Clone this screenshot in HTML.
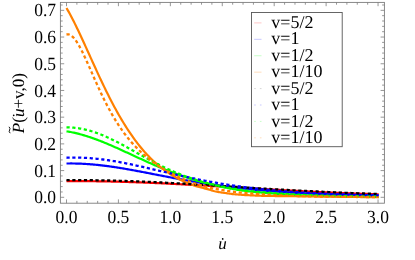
<!DOCTYPE html>
<html><head><meta charset="utf-8"><style>
html,body{margin:0;padding:0;background:#fff;}
svg{display:block;will-change:transform;opacity:0.999;font-family:"Liberation Serif",serif;text-rendering:geometricPrecision;}
text{stroke:none;}
</style></head><body>
<svg width="415" height="260" viewBox="0 0 415 260">
<rect width="415" height="260" fill="#fff"/>
<defs><clipPath id="c"><rect x="60.4" y="2.4" width="324.0" height="200.8"/></clipPath></defs>
<rect x="60.4" y="2.4" width="324.0" height="200.8" fill="none" stroke="#7c7c7c" stroke-width="0.9"/>
<path d="M66.50,203.2 v-3.8 M66.50,2.4 v3.8 M76.89,203.2 v-2.3 M76.89,2.4 v2.3 M87.27,203.2 v-2.3 M87.27,2.4 v2.3 M97.66,203.2 v-2.3 M97.66,2.4 v2.3 M108.04,203.2 v-2.3 M108.04,2.4 v2.3 M118.42,203.2 v-3.8 M118.42,2.4 v3.8 M128.81,203.2 v-2.3 M128.81,2.4 v2.3 M139.19,203.2 v-2.3 M139.19,2.4 v2.3 M149.58,203.2 v-2.3 M149.58,2.4 v2.3 M159.97,203.2 v-2.3 M159.97,2.4 v2.3 M170.35,203.2 v-3.8 M170.35,2.4 v3.8 M180.74,203.2 v-2.3 M180.74,2.4 v2.3 M191.12,203.2 v-2.3 M191.12,2.4 v2.3 M201.50,203.2 v-2.3 M201.50,2.4 v2.3 M211.89,203.2 v-2.3 M211.89,2.4 v2.3 M222.27,203.2 v-3.8 M222.27,2.4 v3.8 M232.66,203.2 v-2.3 M232.66,2.4 v2.3 M243.04,203.2 v-2.3 M243.04,2.4 v2.3 M253.43,203.2 v-2.3 M253.43,2.4 v2.3 M263.81,203.2 v-2.3 M263.81,2.4 v2.3 M274.20,203.2 v-3.8 M274.20,2.4 v3.8 M284.59,203.2 v-2.3 M284.59,2.4 v2.3 M294.97,203.2 v-2.3 M294.97,2.4 v2.3 M305.35,203.2 v-2.3 M305.35,2.4 v2.3 M315.74,203.2 v-2.3 M315.74,2.4 v2.3 M326.12,203.2 v-3.8 M326.12,2.4 v3.8 M336.51,203.2 v-2.3 M336.51,2.4 v2.3 M346.89,203.2 v-2.3 M346.89,2.4 v2.3 M357.28,203.2 v-2.3 M357.28,2.4 v2.3 M367.66,203.2 v-2.3 M367.66,2.4 v2.3 M378.05,203.2 v-3.8 M378.05,2.4 v3.8 M60.4,197.30 h3.8 M384.4,197.30 h-3.8 M60.4,191.96 h2.3 M384.4,191.96 h-2.3 M60.4,186.62 h2.3 M384.4,186.62 h-2.3 M60.4,181.27 h2.3 M384.4,181.27 h-2.3 M60.4,175.93 h2.3 M384.4,175.93 h-2.3 M60.4,170.59 h3.8 M384.4,170.59 h-3.8 M60.4,165.25 h2.3 M384.4,165.25 h-2.3 M60.4,159.91 h2.3 M384.4,159.91 h-2.3 M60.4,154.56 h2.3 M384.4,154.56 h-2.3 M60.4,149.22 h2.3 M384.4,149.22 h-2.3 M60.4,143.88 h3.8 M384.4,143.88 h-3.8 M60.4,138.54 h2.3 M384.4,138.54 h-2.3 M60.4,133.20 h2.3 M384.4,133.20 h-2.3 M60.4,127.85 h2.3 M384.4,127.85 h-2.3 M60.4,122.51 h2.3 M384.4,122.51 h-2.3 M60.4,117.17 h3.8 M384.4,117.17 h-3.8 M60.4,111.83 h2.3 M384.4,111.83 h-2.3 M60.4,106.49 h2.3 M384.4,106.49 h-2.3 M60.4,101.14 h2.3 M384.4,101.14 h-2.3 M60.4,95.80 h2.3 M384.4,95.80 h-2.3 M60.4,90.46 h3.8 M384.4,90.46 h-3.8 M60.4,85.12 h2.3 M384.4,85.12 h-2.3 M60.4,79.78 h2.3 M384.4,79.78 h-2.3 M60.4,74.43 h2.3 M384.4,74.43 h-2.3 M60.4,69.09 h2.3 M384.4,69.09 h-2.3 M60.4,63.75 h3.8 M384.4,63.75 h-3.8 M60.4,58.41 h2.3 M384.4,58.41 h-2.3 M60.4,53.07 h2.3 M384.4,53.07 h-2.3 M60.4,47.72 h2.3 M384.4,47.72 h-2.3 M60.4,42.38 h2.3 M384.4,42.38 h-2.3 M60.4,37.04 h3.8 M384.4,37.04 h-3.8 M60.4,31.70 h2.3 M384.4,31.70 h-2.3 M60.4,26.36 h2.3 M384.4,26.36 h-2.3 M60.4,21.01 h2.3 M384.4,21.01 h-2.3 M60.4,15.67 h2.3 M384.4,15.67 h-2.3 M60.4,10.33 h3.8 M384.4,10.33 h-3.8 M60.4,4.99 h2.3 M384.4,4.99 h-2.3" fill="none" stroke="#7c7c7c" stroke-width="0.8"/>
<g><path d="M66.50,181.14 L67.54,181.13 L68.59,181.13 L69.63,181.12 L70.68,181.12 L71.72,181.12 L72.76,181.12 L73.81,181.12 L74.85,181.12 L75.90,181.12 L76.94,181.12 L77.98,181.12 L79.03,181.12 L80.07,181.13 L81.12,181.13 L82.16,181.14 L83.20,181.14 L84.25,181.15 L85.29,181.15 L86.34,181.16 L87.38,181.17 L88.43,181.18 L89.47,181.19 L90.51,181.20 L91.56,181.21 L92.60,181.22 L93.65,181.23 L94.69,181.25 L95.73,181.26 L96.78,181.28 L97.82,181.29 L98.87,181.31 L99.91,181.32 L100.95,181.34 L102.00,181.36 L103.04,181.38 L104.09,181.39 L105.13,181.41 L106.17,181.43 L107.22,181.45 L108.26,181.48 L109.31,181.50 L110.35,181.52 L111.39,181.54 L112.44,181.57 L113.48,181.59 L114.53,181.62 L115.57,181.64 L116.61,181.67 L117.66,181.70 L118.70,181.73 L119.75,181.75 L120.79,181.78 L121.84,181.81 L122.88,181.84 L123.92,181.87 L124.97,181.90 L126.01,181.94 L127.06,181.97 L128.10,182.00 L129.14,182.03 L130.19,182.07 L131.23,182.10 L132.28,182.14 L133.32,182.17 L134.36,182.21 L135.41,182.25 L136.45,182.28 L137.50,182.32 L138.54,182.36 L139.58,182.40 L140.63,182.44 L141.67,182.48 L142.72,182.52 L143.76,182.56 L144.80,182.60 L145.85,182.64 L146.89,182.68 L147.94,182.73 L148.98,182.77 L150.02,182.81 L151.07,182.86 L152.11,182.90 L153.16,182.95 L154.20,182.99 L155.24,183.04 L156.29,183.09 L157.33,183.13 L158.38,183.18 L159.42,183.23 L160.47,183.27 L161.51,183.32 L162.55,183.37 L163.60,183.42 L164.64,183.47 L165.69,183.52 L166.73,183.57 L167.77,183.62 L168.82,183.67 L169.86,183.72 L170.91,183.78 L171.95,183.83 L172.99,183.88 L174.04,183.93 L175.08,183.99 L176.13,184.04 L177.17,184.09 L178.21,184.15 L179.26,184.20 L180.30,184.26 L181.35,184.31 L182.39,184.37 L183.43,184.42 L184.48,184.48 L185.52,184.53 L186.57,184.59 L187.61,184.65 L188.65,184.70 L189.70,184.76 L190.74,184.82 L191.79,184.88 L192.83,184.93 L193.87,184.99 L194.92,185.05 L195.96,185.11 L197.01,185.17 L198.05,185.23 L199.10,185.28 L200.14,185.34 L201.18,185.40 L202.23,185.46 L203.27,185.52 L204.32,185.58 L205.36,185.64 L206.40,185.70 L207.45,185.76 L208.49,185.82 L209.54,185.88 L210.58,185.94 L211.62,186.00 L212.67,186.07 L213.71,186.13 L214.76,186.19 L215.80,186.25 L216.84,186.31 L217.89,186.37 L218.93,186.43 L219.98,186.49 L221.02,186.56 L222.06,186.62 L223.11,186.68 L224.15,186.74 L225.20,186.80 L226.24,186.86 L227.28,186.93 L228.33,186.99 L229.37,187.05 L230.42,187.11 L231.46,187.17 L232.51,187.24 L233.55,187.30 L234.59,187.36 L235.64,187.42 L236.68,187.48 L237.73,187.55 L238.77,187.61 L239.81,187.67 L240.86,187.73 L241.90,187.79 L242.95,187.86 L243.99,187.92 L245.03,187.98 L246.08,188.04 L247.12,188.10 L248.17,188.16 L249.21,188.23 L250.25,188.29 L251.30,188.35 L252.34,188.41 L253.39,188.47 L254.43,188.53 L255.47,188.59 L256.52,188.65 L257.56,188.71 L258.61,188.77 L259.65,188.84 L260.69,188.90 L261.74,188.96 L262.78,189.02 L263.83,189.08 L264.87,189.14 L265.91,189.20 L266.96,189.26 L268.00,189.32 L269.05,189.37 L270.09,189.43 L271.14,189.49 L272.18,189.55 L273.22,189.61 L274.27,189.67 L275.31,189.73 L276.36,189.79 L277.40,189.84 L278.44,189.90 L279.49,189.96 L280.53,190.02 L281.58,190.08 L282.62,190.13 L283.66,190.19 L284.71,190.25 L285.75,190.30 L286.80,190.36 L287.84,190.42 L288.88,190.47 L289.93,190.53 L290.97,190.58 L292.02,190.64 L293.06,190.69 L294.10,190.75 L295.15,190.80 L296.19,190.86 L297.24,190.91 L298.28,190.97 L299.32,191.02 L300.37,191.07 L301.41,191.13 L302.46,191.18 L303.50,191.23 L304.55,191.29 L305.59,191.34 L306.63,191.39 L307.68,191.44 L308.72,191.50 L309.77,191.55 L310.81,191.60 L311.85,191.65 L312.90,191.70 L313.94,191.75 L314.99,191.80 L316.03,191.85 L317.07,191.90 L318.12,191.95 L319.16,192.00 L320.21,192.05 L321.25,192.10 L322.29,192.14 L323.34,192.19 L324.38,192.24 L325.43,192.29 L326.47,192.34 L327.51,192.38 L328.56,192.43 L329.60,192.48 L330.65,192.52 L331.69,192.57 L332.73,192.61 L333.78,192.66 L334.82,192.70 L335.87,192.75 L336.91,192.79 L337.95,192.84 L339.00,192.88 L340.04,192.93 L341.09,192.97 L342.13,193.01 L343.18,193.06 L344.22,193.10 L345.26,193.14 L346.31,193.18 L347.35,193.22 L348.40,193.27 L349.44,193.31 L350.48,193.35 L351.53,193.39 L352.57,193.43 L353.62,193.47 L354.66,193.51 L355.70,193.55 L356.75,193.59 L357.79,193.63 L358.84,193.66 L359.88,193.70 L360.92,193.74 L361.97,193.78 L363.01,193.82 L364.06,193.85 L365.10,193.89 L366.14,193.93 L367.19,193.96 L368.23,194.00 L369.28,194.04 L370.32,194.07 L371.36,194.11 L372.41,194.14 L373.45,194.18 L374.50,194.21 L375.54,194.25 L376.58,194.28 L377.63,194.31 L378.67,194.35" fill="none" stroke="#ff0000" stroke-width="2.2"/>
<path d="M66.50,163.51 L67.54,163.50 L68.59,163.48 L69.63,163.48 L70.68,163.47 L71.72,163.47 L72.76,163.48 L73.81,163.49 L74.85,163.51 L75.90,163.53 L76.94,163.55 L77.98,163.58 L79.03,163.62 L80.07,163.65 L81.12,163.70 L82.16,163.74 L83.20,163.80 L84.25,163.85 L85.29,163.91 L86.34,163.98 L87.38,164.05 L88.43,164.12 L89.47,164.20 L90.51,164.28 L91.56,164.36 L92.60,164.45 L93.65,164.54 L94.69,164.64 L95.73,164.74 L96.78,164.84 L97.82,164.95 L98.87,165.06 L99.91,165.17 L100.95,165.29 L102.00,165.41 L103.04,165.54 L104.09,165.67 L105.13,165.80 L106.17,165.93 L107.22,166.07 L108.26,166.21 L109.31,166.35 L110.35,166.50 L111.39,166.64 L112.44,166.80 L113.48,166.95 L114.53,167.11 L115.57,167.26 L116.61,167.43 L117.66,167.59 L118.70,167.75 L119.75,167.92 L120.79,168.09 L121.84,168.26 L122.88,168.44 L123.92,168.61 L124.97,168.79 L126.01,168.97 L127.06,169.15 L128.10,169.34 L129.14,169.52 L130.19,169.71 L131.23,169.89 L132.28,170.08 L133.32,170.27 L134.36,170.46 L135.41,170.66 L136.45,170.85 L137.50,171.05 L138.54,171.24 L139.58,171.44 L140.63,171.64 L141.67,171.83 L142.72,172.03 L143.76,172.23 L144.80,172.43 L145.85,172.63 L146.89,172.84 L147.94,173.04 L148.98,173.24 L150.02,173.44 L151.07,173.65 L152.11,173.85 L153.16,174.05 L154.20,174.26 L155.24,174.46 L156.29,174.66 L157.33,174.87 L158.38,175.07 L159.42,175.27 L160.47,175.48 L161.51,175.68 L162.55,175.88 L163.60,176.09 L164.64,176.29 L165.69,176.49 L166.73,176.69 L167.77,176.89 L168.82,177.09 L169.86,177.29 L170.91,177.49 L171.95,177.69 L172.99,177.89 L174.04,178.08 L175.08,178.28 L176.13,178.48 L177.17,178.67 L178.21,178.87 L179.26,179.06 L180.30,179.25 L181.35,179.44 L182.39,179.63 L183.43,179.82 L184.48,180.01 L185.52,180.20 L186.57,180.39 L187.61,180.57 L188.65,180.76 L189.70,180.94 L190.74,181.12 L191.79,181.30 L192.83,181.48 L193.87,181.66 L194.92,181.84 L195.96,182.01 L197.01,182.19 L198.05,182.36 L199.10,182.54 L200.14,182.71 L201.18,182.88 L202.23,183.05 L203.27,183.21 L204.32,183.38 L205.36,183.54 L206.40,183.71 L207.45,183.87 L208.49,184.03 L209.54,184.19 L210.58,184.35 L211.62,184.50 L212.67,184.66 L213.71,184.81 L214.76,184.97 L215.80,185.12 L216.84,185.27 L217.89,185.42 L218.93,185.56 L219.98,185.71 L221.02,185.85 L222.06,185.99 L223.11,186.14 L224.15,186.28 L225.20,186.41 L226.24,186.55 L227.28,186.69 L228.33,186.82 L229.37,186.95 L230.42,187.09 L231.46,187.22 L232.51,187.34 L233.55,187.47 L234.59,187.60 L235.64,187.72 L236.68,187.85 L237.73,187.97 L238.77,188.09 L239.81,188.21 L240.86,188.32 L241.90,188.44 L242.95,188.56 L243.99,188.67 L245.03,188.78 L246.08,188.89 L247.12,189.00 L248.17,189.11 L249.21,189.22 L250.25,189.32 L251.30,189.43 L252.34,189.53 L253.39,189.63 L254.43,189.73 L255.47,189.83 L256.52,189.93 L257.56,190.03 L258.61,190.13 L259.65,190.22 L260.69,190.31 L261.74,190.41 L262.78,190.50 L263.83,190.59 L264.87,190.68 L265.91,190.76 L266.96,190.85 L268.00,190.93 L269.05,191.02 L270.09,191.10 L271.14,191.18 L272.18,191.26 L273.22,191.34 L274.27,191.42 L275.31,191.50 L276.36,191.58 L277.40,191.65 L278.44,191.73 L279.49,191.80 L280.53,191.87 L281.58,191.95 L282.62,192.02 L283.66,192.09 L284.71,192.15 L285.75,192.22 L286.80,192.29 L287.84,192.35 L288.88,192.42 L289.93,192.48 L290.97,192.55 L292.02,192.61 L293.06,192.67 L294.10,192.73 L295.15,192.79 L296.19,192.85 L297.24,192.91 L298.28,192.96 L299.32,193.02 L300.37,193.07 L301.41,193.13 L302.46,193.18 L303.50,193.23 L304.55,193.29 L305.59,193.34 L306.63,193.39 L307.68,193.44 L308.72,193.49 L309.77,193.54 L310.81,193.58 L311.85,193.63 L312.90,193.68 L313.94,193.72 L314.99,193.77 L316.03,193.81 L317.07,193.86 L318.12,193.90 L319.16,193.94 L320.21,193.98 L321.25,194.02 L322.29,194.06 L323.34,194.10 L324.38,194.14 L325.43,194.18 L326.47,194.22 L327.51,194.26 L328.56,194.29 L329.60,194.33 L330.65,194.36 L331.69,194.40 L332.73,194.43 L333.78,194.47 L334.82,194.50 L335.87,194.53 L336.91,194.57 L337.95,194.60 L339.00,194.63 L340.04,194.66 L341.09,194.69 L342.13,194.72 L343.18,194.75 L344.22,194.78 L345.26,194.81 L346.31,194.84 L347.35,194.86 L348.40,194.89 L349.44,194.92 L350.48,194.95 L351.53,194.97 L352.57,195.00 L353.62,195.02 L354.66,195.05 L355.70,195.07 L356.75,195.09 L357.79,195.12 L358.84,195.14 L359.88,195.16 L360.92,195.19 L361.97,195.21 L363.01,195.23 L364.06,195.25 L365.10,195.27 L366.14,195.29 L367.19,195.31 L368.23,195.33 L369.28,195.35 L370.32,195.37 L371.36,195.39 L372.41,195.41 L373.45,195.43 L374.50,195.44 L375.54,195.46 L376.58,195.48 L377.63,195.50 L378.67,195.51" fill="none" stroke="#0000ff" stroke-width="2.2"/>
<path d="M66.50,131.31 L67.54,131.48 L68.59,131.66 L69.63,131.84 L70.68,132.04 L71.72,132.25 L72.76,132.46 L73.81,132.68 L74.85,132.92 L75.90,133.16 L76.94,133.41 L77.98,133.67 L79.03,133.93 L80.07,134.21 L81.12,134.49 L82.16,134.78 L83.20,135.08 L84.25,135.39 L85.29,135.70 L86.34,136.03 L87.38,136.36 L88.43,136.69 L89.47,137.03 L90.51,137.39 L91.56,137.74 L92.60,138.11 L93.65,138.48 L94.69,138.85 L95.73,139.23 L96.78,139.62 L97.82,140.01 L98.87,140.41 L99.91,140.82 L100.95,141.23 L102.00,141.64 L103.04,142.06 L104.09,142.48 L105.13,142.91 L106.17,143.34 L107.22,143.78 L108.26,144.22 L109.31,144.66 L110.35,145.11 L111.39,145.56 L112.44,146.01 L113.48,146.47 L114.53,146.93 L115.57,147.39 L116.61,147.86 L117.66,148.33 L118.70,148.79 L119.75,149.27 L120.79,149.74 L121.84,150.21 L122.88,150.69 L123.92,151.17 L124.97,151.65 L126.01,152.13 L127.06,152.61 L128.10,153.09 L129.14,153.57 L130.19,154.05 L131.23,154.54 L132.28,155.02 L133.32,155.50 L134.36,155.98 L135.41,156.47 L136.45,156.95 L137.50,157.43 L138.54,157.91 L139.58,158.39 L140.63,158.87 L141.67,159.34 L142.72,159.82 L143.76,160.29 L144.80,160.77 L145.85,161.24 L146.89,161.71 L147.94,162.18 L148.98,162.64 L150.02,163.11 L151.07,163.57 L152.11,164.03 L153.16,164.48 L154.20,164.94 L155.24,165.39 L156.29,165.84 L157.33,166.29 L158.38,166.73 L159.42,167.17 L160.47,167.61 L161.51,168.04 L162.55,168.47 L163.60,168.90 L164.64,169.33 L165.69,169.75 L166.73,170.17 L167.77,170.58 L168.82,171.00 L169.86,171.40 L170.91,171.81 L171.95,172.21 L172.99,172.61 L174.04,173.00 L175.08,173.39 L176.13,173.78 L177.17,174.16 L178.21,174.54 L179.26,174.91 L180.30,175.28 L181.35,175.65 L182.39,176.01 L183.43,176.37 L184.48,176.72 L185.52,177.07 L186.57,177.42 L187.61,177.76 L188.65,178.10 L189.70,178.43 L190.74,178.77 L191.79,179.09 L192.83,179.41 L193.87,179.73 L194.92,180.05 L195.96,180.36 L197.01,180.66 L198.05,180.96 L199.10,181.26 L200.14,181.55 L201.18,181.84 L202.23,182.13 L203.27,182.41 L204.32,182.68 L205.36,182.95 L206.40,183.22 L207.45,183.49 L208.49,183.75 L209.54,184.02 L210.58,184.28 L211.62,184.54 L212.67,184.80 L213.71,185.06 L214.76,185.31 L215.80,185.55 L216.84,185.80 L217.89,186.03 L218.93,186.27 L219.98,186.50 L221.02,186.72 L222.06,186.94 L223.11,187.15 L224.15,187.37 L225.20,187.57 L226.24,187.78 L227.28,187.98 L228.33,188.18 L229.37,188.38 L230.42,188.57 L231.46,188.76 L232.51,188.94 L233.55,189.11 L234.59,189.29 L235.64,189.46 L236.68,189.63 L237.73,189.79 L238.77,189.96 L239.81,190.12 L240.86,190.28 L241.90,190.44 L242.95,190.59 L243.99,190.74 L245.03,190.89 L246.08,191.03 L247.12,191.16 L248.17,191.29 L249.21,191.41 L250.25,191.53 L251.30,191.64 L252.34,191.74 L253.39,191.84 L254.43,191.94 L255.47,192.04 L256.52,192.13 L257.56,192.22 L258.61,192.31 L259.65,192.39 L260.69,192.48 L261.74,192.56 L262.78,192.64 L263.83,192.73 L264.87,192.81 L265.91,192.89 L266.96,192.98 L268.00,193.06 L269.05,193.14 L270.09,193.23 L271.14,193.31 L272.18,193.39 L273.22,193.47 L274.27,193.55 L275.31,193.62 L276.36,193.70 L277.40,193.78 L278.44,193.85 L279.49,193.93 L280.53,194.00 L281.58,194.07 L282.62,194.14 L283.66,194.21 L284.71,194.28 L285.75,194.35 L286.80,194.42 L287.84,194.49 L288.88,194.56 L289.93,194.63 L290.97,194.70 L292.02,194.77 L293.06,194.83 L294.10,194.89 L295.15,194.95 L296.19,195.01 L297.24,195.07 L298.28,195.12 L299.32,195.17 L300.37,195.22 L301.41,195.26 L302.46,195.31 L303.50,195.35 L304.55,195.39 L305.59,195.43 L306.63,195.47 L307.68,195.51 L308.72,195.54 L309.77,195.58 L310.81,195.62 L311.85,195.65 L312.90,195.68 L313.94,195.72 L314.99,195.75 L316.03,195.78 L317.07,195.81 L318.12,195.84 L319.16,195.88 L320.21,195.91 L321.25,195.94 L322.29,195.97 L323.34,196.00 L324.38,196.03 L325.43,196.05 L326.47,196.08 L327.51,196.11 L328.56,196.14 L329.60,196.17 L330.65,196.19 L331.69,196.22 L332.73,196.24 L333.78,196.27 L334.82,196.29 L335.87,196.32 L336.91,196.34 L337.95,196.36 L339.00,196.38 L340.04,196.40 L341.09,196.42 L342.13,196.44 L343.18,196.46 L344.22,196.47 L345.26,196.49 L346.31,196.51 L347.35,196.53 L348.40,196.54 L349.44,196.56 L350.48,196.57 L351.53,196.59 L352.57,196.60 L353.62,196.62 L354.66,196.63 L355.70,196.64 L356.75,196.66 L357.79,196.67 L358.84,196.69 L359.88,196.70 L360.92,196.71 L361.97,196.72 L363.01,196.74 L364.06,196.75 L365.10,196.76 L366.14,196.77 L367.19,196.79 L368.23,196.80 L369.28,196.81 L370.32,196.82 L371.36,196.83 L372.41,196.84 L373.45,196.85 L374.50,196.86 L375.54,196.87 L376.58,196.88 L377.63,196.89 L378.67,196.90" fill="none" stroke="#00ff00" stroke-width="2.2"/>
<path d="M66.50,8.04 L67.54,9.83 L68.59,11.67 L69.63,13.56 L70.68,15.49 L71.72,17.47 L72.76,19.49 L73.81,21.54 L74.85,23.63 L75.90,25.75 L76.94,27.90 L77.98,30.08 L79.03,32.27 L80.07,34.49 L81.12,36.73 L82.16,38.99 L83.20,41.26 L84.25,43.54 L85.29,45.83 L86.34,48.12 L87.38,50.43 L88.43,52.73 L89.47,55.04 L90.51,57.35 L91.56,59.65 L92.60,61.96 L93.65,64.25 L94.69,66.54 L95.73,68.82 L96.78,71.10 L97.82,73.36 L98.87,75.61 L99.91,77.84 L100.95,80.06 L102.00,82.26 L103.04,84.45 L104.09,86.62 L105.13,88.77 L106.17,90.90 L107.22,93.01 L108.26,95.10 L109.31,97.17 L110.35,99.21 L111.39,101.23 L112.44,103.23 L113.48,105.20 L114.53,107.15 L115.57,109.07 L116.61,110.97 L117.66,112.84 L118.70,114.69 L119.75,116.51 L120.79,118.30 L121.84,120.07 L122.88,121.81 L123.92,123.52 L124.97,125.20 L126.01,126.86 L127.06,128.49 L128.10,130.09 L129.14,131.67 L130.19,133.22 L131.23,134.74 L132.28,136.23 L133.32,137.70 L134.36,139.14 L135.41,140.55 L136.45,141.94 L137.50,143.30 L138.54,144.64 L139.58,145.95 L140.63,147.23 L141.67,148.49 L142.72,149.72 L143.76,150.92 L144.80,152.11 L145.85,153.26 L146.89,154.40 L147.94,155.51 L148.98,156.59 L150.02,157.66 L151.07,158.70 L152.11,159.71 L153.16,160.71 L154.20,161.68 L155.24,162.63 L156.29,163.56 L157.33,164.47 L158.38,165.35 L159.42,166.22 L160.47,167.07 L161.51,167.89 L162.55,168.70 L163.60,169.49 L164.64,170.26 L165.69,171.01 L166.73,171.74 L167.77,172.45 L168.82,173.15 L169.86,173.83 L170.91,174.49 L171.95,175.14 L172.99,175.77 L174.04,176.39 L175.08,176.98 L176.13,177.57 L177.17,178.14 L178.21,178.69 L179.26,179.23 L180.30,179.76 L181.35,180.27 L182.39,180.77 L183.43,181.25 L184.48,181.72 L185.52,182.18 L186.57,182.63 L187.61,183.07 L188.65,183.49 L189.70,183.90 L190.74,184.30 L191.79,184.69 L192.83,185.07 L193.87,185.43 L194.92,185.77 L195.96,186.10 L197.01,186.42 L198.05,186.72 L199.10,187.01 L200.14,187.28 L201.18,187.55 L202.23,187.80 L203.27,188.05 L204.32,188.31 L205.36,188.56 L206.40,188.83 L207.45,189.12 L208.49,189.42 L209.54,189.74 L210.58,190.06 L211.62,190.39 L212.67,190.70 L213.71,191.00 L214.76,191.27 L215.80,191.50 L216.84,191.71 L217.89,191.91 L218.93,192.09 L219.98,192.26 L221.02,192.43 L222.06,192.58 L223.11,192.73 L224.15,192.88 L225.20,193.03 L226.24,193.18 L227.28,193.34 L228.33,193.49 L229.37,193.64 L230.42,193.78 L231.46,193.92 L232.51,194.04 L233.55,194.16 L234.59,194.25 L235.64,194.35 L236.68,194.44 L237.73,194.52 L238.77,194.61 L239.81,194.69 L240.86,194.76 L241.90,194.83 L242.95,194.90 L243.99,194.97 L245.03,195.03 L246.08,195.09 L247.12,195.15 L248.17,195.21 L249.21,195.26 L250.25,195.31 L251.30,195.36 L252.34,195.41 L253.39,195.46 L254.43,195.51 L255.47,195.55 L256.52,195.60 L257.56,195.64 L258.61,195.68 L259.65,195.72 L260.69,195.76 L261.74,195.79 L262.78,195.82 L263.83,195.85 L264.87,195.88 L265.91,195.90 L266.96,195.92 L268.00,195.93 L269.05,195.95 L270.09,195.97 L271.14,195.98 L272.18,195.99 L273.22,196.01 L274.27,196.02 L275.31,196.03 L276.36,196.04 L277.40,196.05 L278.44,196.06 L279.49,196.07 L280.53,196.08 L281.58,196.10 L282.62,196.11 L283.66,196.12 L284.71,196.13 L285.75,196.14 L286.80,196.15 L287.84,196.16 L288.88,196.18 L289.93,196.19 L290.97,196.20 L292.02,196.21 L293.06,196.22 L294.10,196.23 L295.15,196.24 L296.19,196.25 L297.24,196.27 L298.28,196.28 L299.32,196.29 L300.37,196.30 L301.41,196.32 L302.46,196.33 L303.50,196.35 L304.55,196.36 L305.59,196.38 L306.63,196.40 L307.68,196.41 L308.72,196.43 L309.77,196.45 L310.81,196.47 L311.85,196.48 L312.90,196.50 L313.94,196.52 L314.99,196.53 L316.03,196.55 L317.07,196.56 L318.12,196.58 L319.16,196.59 L320.21,196.60 L321.25,196.61 L322.29,196.63 L323.34,196.64 L324.38,196.65 L325.43,196.66 L326.47,196.67 L327.51,196.68 L328.56,196.69 L329.60,196.70 L330.65,196.71 L331.69,196.72 L332.73,196.73 L333.78,196.74 L334.82,196.75 L335.87,196.76 L336.91,196.77 L337.95,196.78 L339.00,196.79 L340.04,196.80 L341.09,196.81 L342.13,196.82 L343.18,196.83 L344.22,196.84 L345.26,196.86 L346.31,196.87 L347.35,196.88 L348.40,196.89 L349.44,196.90 L350.48,196.91 L351.53,196.92 L352.57,196.93 L353.62,196.95 L354.66,196.96 L355.70,196.97 L356.75,196.97 L357.79,196.98 L358.84,196.99 L359.88,197.00 L360.92,197.01 L361.97,197.01 L363.01,197.02 L364.06,197.03 L365.10,197.03 L366.14,197.04 L367.19,197.05 L368.23,197.05 L369.28,197.06 L370.32,197.06 L371.36,197.07 L372.41,197.07 L373.45,197.08 L374.50,197.08 L375.54,197.09 L376.58,197.09 L377.63,197.10 L378.67,197.10" fill="none" stroke="#ff8000" stroke-width="2.2"/>
<path d="M66.50,180.13 L67.54,180.12 L68.59,180.12 L69.63,180.11 L70.68,180.11 L71.72,180.11 L72.76,180.10 L73.81,180.10 L74.85,180.10 L75.90,180.10 L76.94,180.10 L77.98,180.11 L79.03,180.11 L80.07,180.11 L81.12,180.12 L82.16,180.12 L83.20,180.13 L84.25,180.14 L85.29,180.14 L86.34,180.15 L87.38,180.16 L88.43,180.17 L89.47,180.18 L90.51,180.19 L91.56,180.20 L92.60,180.22 L93.65,180.23 L94.69,180.25 L95.73,180.26 L96.78,180.28 L97.82,180.29 L98.87,180.31 L99.91,180.33 L100.95,180.35 L102.00,180.37 L103.04,180.39 L104.09,180.41 L105.13,180.43 L106.17,180.45 L107.22,180.48 L108.26,180.50 L109.31,180.52 L110.35,180.55 L111.39,180.57 L112.44,180.60 L113.48,180.63 L114.53,180.66 L115.57,180.68 L116.61,180.71 L117.66,180.74 L118.70,180.77 L119.75,180.81 L120.79,180.84 L121.84,180.87 L122.88,180.90 L123.92,180.94 L124.97,180.97 L126.01,181.01 L127.06,181.04 L128.10,181.08 L129.14,181.11 L130.19,181.15 L131.23,181.19 L132.28,181.23 L133.32,181.27 L134.36,181.31 L135.41,181.35 L136.45,181.39 L137.50,181.43 L138.54,181.47 L139.58,181.51 L140.63,181.56 L141.67,181.60 L142.72,181.65 L143.76,181.69 L144.80,181.73 L145.85,181.78 L146.89,181.83 L147.94,181.87 L148.98,181.92 L150.02,181.97 L151.07,182.02 L152.11,182.06 L153.16,182.11 L154.20,182.16 L155.24,182.21 L156.29,182.26 L157.33,182.31 L158.38,182.37 L159.42,182.42 L160.47,182.47 L161.51,182.52 L162.55,182.57 L163.60,182.63 L164.64,182.68 L165.69,182.74 L166.73,182.79 L167.77,182.85 L168.82,182.90 L169.86,182.96 L170.91,183.01 L171.95,183.07 L172.99,183.12 L174.04,183.18 L175.08,183.24 L176.13,183.30 L177.17,183.35 L178.21,183.41 L179.26,183.47 L180.30,183.53 L181.35,183.59 L182.39,183.65 L183.43,183.71 L184.48,183.77 L185.52,183.83 L186.57,183.89 L187.61,183.95 L188.65,184.01 L189.70,184.07 L190.74,184.13 L191.79,184.19 L192.83,184.26 L193.87,184.32 L194.92,184.38 L195.96,184.44 L197.01,184.50 L198.05,184.57 L199.10,184.63 L200.14,184.69 L201.18,184.76 L202.23,184.82 L203.27,184.88 L204.32,184.95 L205.36,185.01 L206.40,185.07 L207.45,185.14 L208.49,185.20 L209.54,185.27 L210.58,185.33 L211.62,185.39 L212.67,185.46 L213.71,185.52 L214.76,185.59 L215.80,185.65 L216.84,185.72 L217.89,185.78 L218.93,185.85 L219.98,185.91 L221.02,185.98 L222.06,186.04 L223.11,186.11 L224.15,186.17 L225.20,186.24 L226.24,186.30 L227.28,186.37 L228.33,186.43 L229.37,186.50 L230.42,186.56 L231.46,186.63 L232.51,186.69 L233.55,186.76 L234.59,186.82 L235.64,186.89 L236.68,186.95 L237.73,187.02 L238.77,187.08 L239.81,187.15 L240.86,187.21 L241.90,187.28 L242.95,187.34 L243.99,187.41 L245.03,187.47 L246.08,187.54 L247.12,187.60 L248.17,187.67 L249.21,187.73 L250.25,187.79 L251.30,187.86 L252.34,187.92 L253.39,187.98 L254.43,188.05 L255.47,188.11 L256.52,188.18 L257.56,188.24 L258.61,188.30 L259.65,188.36 L260.69,188.43 L261.74,188.49 L262.78,188.55 L263.83,188.61 L264.87,188.68 L265.91,188.74 L266.96,188.80 L268.00,188.86 L269.05,188.92 L270.09,188.99 L271.14,189.05 L272.18,189.11 L273.22,189.17 L274.27,189.23 L275.31,189.29 L276.36,189.35 L277.40,189.41 L278.44,189.47 L279.49,189.53 L280.53,189.59 L281.58,189.65 L282.62,189.71 L283.66,189.77 L284.71,189.83 L285.75,189.88 L286.80,189.94 L287.84,190.00 L288.88,190.06 L289.93,190.11 L290.97,190.17 L292.02,190.23 L293.06,190.29 L294.10,190.34 L295.15,190.40 L296.19,190.46 L297.24,190.51 L298.28,190.57 L299.32,190.62 L300.37,190.68 L301.41,190.73 L302.46,190.79 L303.50,190.84 L304.55,190.89 L305.59,190.95 L306.63,191.00 L307.68,191.06 L308.72,191.11 L309.77,191.16 L310.81,191.21 L311.85,191.27 L312.90,191.32 L313.94,191.37 L314.99,191.42 L316.03,191.47 L317.07,191.52 L318.12,191.57 L319.16,191.62 L320.21,191.67 L321.25,191.72 L322.29,191.77 L323.34,191.82 L324.38,191.87 L325.43,191.92 L326.47,191.97 L327.51,192.02 L328.56,192.07 L329.60,192.11 L330.65,192.16 L331.69,192.21 L332.73,192.25 L333.78,192.30 L334.82,192.35 L335.87,192.39 L336.91,192.44 L337.95,192.48 L339.00,192.53 L340.04,192.57 L341.09,192.62 L342.13,192.66 L343.18,192.71 L344.22,192.75 L345.26,192.79 L346.31,192.84 L347.35,192.88 L348.40,192.92 L349.44,192.96 L350.48,193.01 L351.53,193.05 L352.57,193.09 L353.62,193.13 L354.66,193.17 L355.70,193.21 L356.75,193.25 L357.79,193.29 L358.84,193.33 L359.88,193.37 L360.92,193.41 L361.97,193.45 L363.01,193.49 L364.06,193.52 L365.10,193.56 L366.14,193.60 L367.19,193.64 L368.23,193.67 L369.28,193.71 L370.32,193.75 L371.36,193.78 L372.41,193.82 L373.45,193.86 L374.50,193.89 L375.54,193.93 L376.58,193.96 L377.63,193.99 L378.67,194.03" fill="none" stroke="#000" stroke-width="2.3" stroke-dasharray="3.2 2.6"/>
<path d="M66.50,157.76 L67.54,157.72 L68.59,157.68 L69.63,157.65 L70.68,157.63 L71.72,157.61 L72.76,157.59 L73.81,157.58 L74.85,157.58 L75.90,157.58 L76.94,157.59 L77.98,157.61 L79.03,157.63 L80.07,157.65 L81.12,157.68 L82.16,157.72 L83.20,157.76 L84.25,157.81 L85.29,157.86 L86.34,157.92 L87.38,157.98 L88.43,158.05 L89.47,158.12 L90.51,158.20 L91.56,158.28 L92.60,158.37 L93.65,158.46 L94.69,158.56 L95.73,158.66 L96.78,158.77 L97.82,158.88 L98.87,159.00 L99.91,159.12 L100.95,159.25 L102.00,159.37 L103.04,159.51 L104.09,159.65 L105.13,159.79 L106.17,159.93 L107.22,160.08 L108.26,160.24 L109.31,160.39 L110.35,160.55 L111.39,160.72 L112.44,160.89 L113.48,161.06 L114.53,161.23 L115.57,161.41 L116.61,161.59 L117.66,161.78 L118.70,161.97 L119.75,162.16 L120.79,162.35 L121.84,162.55 L122.88,162.75 L123.92,162.95 L124.97,163.15 L126.01,163.36 L127.06,163.57 L128.10,163.78 L129.14,163.99 L130.19,164.21 L131.23,164.42 L132.28,164.64 L133.32,164.86 L134.36,165.09 L135.41,165.31 L136.45,165.54 L137.50,165.77 L138.54,165.99 L139.58,166.23 L140.63,166.46 L141.67,166.69 L142.72,166.93 L143.76,167.16 L144.80,167.40 L145.85,167.63 L146.89,167.87 L147.94,168.11 L148.98,168.35 L150.02,168.59 L151.07,168.83 L152.11,169.07 L153.16,169.32 L154.20,169.56 L155.24,169.80 L156.29,170.04 L157.33,170.29 L158.38,170.53 L159.42,170.77 L160.47,171.02 L161.51,171.26 L162.55,171.50 L163.60,171.75 L164.64,171.99 L165.69,172.23 L166.73,172.47 L167.77,172.71 L168.82,172.96 L169.86,173.20 L170.91,173.44 L171.95,173.68 L172.99,173.91 L174.04,174.15 L175.08,174.39 L176.13,174.63 L177.17,174.86 L178.21,175.10 L179.26,175.33 L180.30,175.56 L181.35,175.80 L182.39,176.03 L183.43,176.26 L184.48,176.49 L185.52,176.71 L186.57,176.94 L187.61,177.17 L188.65,177.39 L189.70,177.61 L190.74,177.83 L191.79,178.06 L192.83,178.27 L193.87,178.49 L194.92,178.71 L195.96,178.92 L197.01,179.14 L198.05,179.35 L199.10,179.56 L200.14,179.77 L201.18,179.98 L202.23,180.18 L203.27,180.39 L204.32,180.59 L205.36,180.79 L206.40,180.99 L207.45,181.19 L208.49,181.39 L209.54,181.58 L210.58,181.77 L211.62,181.97 L212.67,182.16 L213.71,182.34 L214.76,182.53 L215.80,182.72 L216.84,182.90 L217.89,183.08 L218.93,183.26 L219.98,183.44 L221.02,183.62 L222.06,183.79 L223.11,183.96 L224.15,184.14 L225.20,184.31 L226.24,184.47 L227.28,184.64 L228.33,184.81 L229.37,184.97 L230.42,185.13 L231.46,185.29 L232.51,185.45 L233.55,185.60 L234.59,185.76 L235.64,185.91 L236.68,186.06 L237.73,186.21 L238.77,186.36 L239.81,186.51 L240.86,186.65 L241.90,186.79 L242.95,186.93 L243.99,187.07 L245.03,187.21 L246.08,187.35 L247.12,187.48 L248.17,187.62 L249.21,187.75 L250.25,187.88 L251.30,188.01 L252.34,188.13 L253.39,188.26 L254.43,188.38 L255.47,188.50 L256.52,188.63 L257.56,188.74 L258.61,188.86 L259.65,188.98 L260.69,189.09 L261.74,189.21 L262.78,189.32 L263.83,189.43 L264.87,189.54 L265.91,189.64 L266.96,189.75 L268.00,189.86 L269.05,189.96 L270.09,190.06 L271.14,190.16 L272.18,190.26 L273.22,190.36 L274.27,190.45 L275.31,190.55 L276.36,190.64 L277.40,190.74 L278.44,190.83 L279.49,190.92 L280.53,191.01 L281.58,191.09 L282.62,191.18 L283.66,191.27 L284.71,191.35 L285.75,191.43 L286.80,191.51 L287.84,191.59 L288.88,191.67 L289.93,191.75 L290.97,191.83 L292.02,191.90 L293.06,191.98 L294.10,192.05 L295.15,192.13 L296.19,192.20 L297.24,192.27 L298.28,192.34 L299.32,192.41 L300.37,192.47 L301.41,192.54 L302.46,192.60 L303.50,192.67 L304.55,192.73 L305.59,192.80 L306.63,192.86 L307.68,192.92 L308.72,192.98 L309.77,193.04 L310.81,193.09 L311.85,193.15 L312.90,193.21 L313.94,193.26 L314.99,193.32 L316.03,193.37 L317.07,193.42 L318.12,193.48 L319.16,193.53 L320.21,193.58 L321.25,193.63 L322.29,193.68 L323.34,193.73 L324.38,193.77 L325.43,193.82 L326.47,193.87 L327.51,193.91 L328.56,193.96 L329.60,194.00 L330.65,194.04 L331.69,194.09 L332.73,194.13 L333.78,194.17 L334.82,194.21 L335.87,194.25 L336.91,194.29 L337.95,194.33 L339.00,194.36 L340.04,194.40 L341.09,194.44 L342.13,194.48 L343.18,194.51 L344.22,194.55 L345.26,194.58 L346.31,194.61 L347.35,194.65 L348.40,194.68 L349.44,194.71 L350.48,194.75 L351.53,194.78 L352.57,194.81 L353.62,194.84 L354.66,194.87 L355.70,194.90 L356.75,194.93 L357.79,194.95 L358.84,194.98 L359.88,195.01 L360.92,195.04 L361.97,195.06 L363.01,195.09 L364.06,195.11 L365.10,195.14 L366.14,195.16 L367.19,195.19 L368.23,195.21 L369.28,195.24 L370.32,195.26 L371.36,195.28 L372.41,195.31 L373.45,195.33 L374.50,195.35 L375.54,195.37 L376.58,195.39 L377.63,195.41 L378.67,195.43" fill="none" stroke="#0000ff" stroke-width="2.3" stroke-dasharray="3.2 2.6"/>
<path d="M66.50,127.32 L67.54,127.33 L68.59,127.36 L69.63,127.40 L70.68,127.45 L71.72,127.51 L72.76,127.59 L73.81,127.68 L74.85,127.79 L75.90,127.90 L76.94,128.03 L77.98,128.18 L79.03,128.34 L80.07,128.51 L81.12,128.69 L82.16,128.88 L83.20,129.09 L84.25,129.32 L85.29,129.55 L86.34,129.80 L87.38,130.06 L88.43,130.34 L89.47,130.62 L90.51,130.92 L91.56,131.23 L92.60,131.55 L93.65,131.89 L94.69,132.23 L95.73,132.59 L96.78,132.96 L97.82,133.34 L98.87,133.73 L99.91,134.13 L100.95,134.54 L102.00,134.96 L103.04,135.40 L104.09,135.84 L105.13,136.29 L106.17,136.75 L107.22,137.21 L108.26,137.69 L109.31,138.17 L110.35,138.67 L111.39,139.17 L112.44,139.67 L113.48,140.18 L114.53,140.70 L115.57,141.23 L116.61,141.76 L117.66,142.30 L118.70,142.84 L119.75,143.39 L120.79,143.94 L121.84,144.50 L122.88,145.06 L123.92,145.62 L124.97,146.19 L126.01,146.76 L127.06,147.34 L128.10,147.91 L129.14,148.49 L130.19,149.07 L131.23,149.65 L132.28,150.23 L133.32,150.81 L134.36,151.40 L135.41,151.98 L136.45,152.56 L137.50,153.15 L138.54,153.73 L139.58,154.31 L140.63,154.89 L141.67,155.47 L142.72,156.05 L143.76,156.63 L144.80,157.20 L145.85,157.77 L146.89,158.34 L147.94,158.91 L148.98,159.48 L150.02,160.04 L151.07,160.59 L152.11,161.15 L153.16,161.70 L154.20,162.25 L155.24,162.79 L156.29,163.33 L157.33,163.86 L158.38,164.39 L159.42,164.92 L160.47,165.44 L161.51,165.96 L162.55,166.47 L163.60,166.98 L164.64,167.48 L165.69,167.98 L166.73,168.47 L167.77,168.95 L168.82,169.43 L169.86,169.91 L170.91,170.38 L171.95,170.84 L172.99,171.30 L174.04,171.75 L175.08,172.20 L176.13,172.64 L177.17,173.08 L178.21,173.51 L179.26,173.93 L180.30,174.35 L181.35,174.76 L182.39,175.17 L183.43,175.57 L184.48,175.96 L185.52,176.35 L186.57,176.73 L187.61,177.11 L188.65,177.48 L189.70,177.85 L190.74,178.21 L191.79,178.56 L192.83,178.91 L193.87,179.25 L194.92,179.59 L195.96,179.92 L197.01,180.25 L198.05,180.57 L199.10,180.88 L200.14,181.19 L201.18,181.50 L202.23,181.79 L203.27,182.08 L204.32,182.36 L205.36,182.63 L206.40,182.90 L207.45,183.17 L208.49,183.43 L209.54,183.68 L210.58,183.93 L211.62,184.18 L212.67,184.43 L213.71,184.67 L214.76,184.91 L215.80,185.15 L216.84,185.37 L217.89,185.60 L218.93,185.82 L219.98,186.04 L221.02,186.25 L222.06,186.46 L223.11,186.67 L224.15,186.87 L225.20,187.07 L226.24,187.28 L227.28,187.48 L228.33,187.67 L229.37,187.87 L230.42,188.06 L231.46,188.25 L232.51,188.44 L233.55,188.62 L234.59,188.80 L235.64,188.97 L236.68,189.15 L237.73,189.33 L238.77,189.50 L239.81,189.67 L240.86,189.84 L241.90,190.00 L242.95,190.16 L243.99,190.32 L245.03,190.47 L246.08,190.61 L247.12,190.75 L248.17,190.89 L249.21,191.01 L250.25,191.13 L251.30,191.24 L252.34,191.35 L253.39,191.45 L254.43,191.55 L255.47,191.64 L256.52,191.73 L257.56,191.82 L258.61,191.91 L259.65,191.99 L260.69,192.08 L261.74,192.16 L262.78,192.24 L263.83,192.33 L264.87,192.41 L265.91,192.49 L266.96,192.58 L268.00,192.66 L269.05,192.74 L270.09,192.83 L271.14,192.91 L272.18,192.99 L273.22,193.07 L274.27,193.15 L275.31,193.22 L276.36,193.30 L277.40,193.38 L278.44,193.45 L279.49,193.53 L280.53,193.60 L281.58,193.67 L282.62,193.74 L283.66,193.81 L284.71,193.88 L285.75,193.95 L286.80,194.02 L287.84,194.09 L288.88,194.16 L289.93,194.23 L290.97,194.30 L292.02,194.37 L293.06,194.43 L294.10,194.49 L295.15,194.55 L296.19,194.61 L297.24,194.67 L298.28,194.72 L299.32,194.77 L300.37,194.82 L301.41,194.86 L302.46,194.91 L303.50,194.95 L304.55,194.99 L305.59,195.03 L306.63,195.06 L307.68,195.10 L308.72,195.14 L309.77,195.17 L310.81,195.21 L311.85,195.24 L312.90,195.28 L313.94,195.31 L314.99,195.34 L316.03,195.37 L317.07,195.41 L318.12,195.44 L319.16,195.47 L320.21,195.51 L321.25,195.54 L322.29,195.57 L323.34,195.61 L324.38,195.64 L325.43,195.68 L326.47,195.71 L327.51,195.74 L328.56,195.78 L329.60,195.81 L330.65,195.84 L331.69,195.87 L332.73,195.90 L333.78,195.93 L334.82,195.96 L335.87,195.99 L336.91,196.02 L337.95,196.05 L339.00,196.08 L340.04,196.10 L341.09,196.13 L342.13,196.15 L343.18,196.17 L344.22,196.20 L345.26,196.22 L346.31,196.24 L347.35,196.26 L348.40,196.28 L349.44,196.30 L350.48,196.32 L351.53,196.35 L352.57,196.36 L353.62,196.38 L354.66,196.40 L355.70,196.42 L356.75,196.44 L357.79,196.46 L358.84,196.48 L359.88,196.50 L360.92,196.52 L361.97,196.53 L363.01,196.55 L364.06,196.57 L365.10,196.59 L366.14,196.61 L367.19,196.62 L368.23,196.64 L369.28,196.66 L370.32,196.67 L371.36,196.69 L372.41,196.71 L373.45,196.72 L374.50,196.74 L375.54,196.75 L376.58,196.77 L377.63,196.79 L378.67,196.80" fill="none" stroke="#00ff00" stroke-width="2.3" stroke-dasharray="3.2 2.6"/>
<path d="M66.50,34.49 L67.54,34.34 L68.59,34.43 L69.63,34.75 L70.68,35.28 L71.72,36.01 L72.76,36.93 L73.81,38.02 L74.85,39.28 L75.90,40.68 L76.94,42.23 L77.98,43.90 L79.03,45.68 L80.07,47.56 L81.12,49.53 L82.16,51.59 L83.20,53.71 L84.25,55.89 L85.29,58.12 L86.34,60.39 L87.38,62.70 L88.43,65.03 L89.47,67.38 L90.51,69.74 L91.56,72.11 L92.60,74.48 L93.65,76.85 L94.69,79.20 L95.73,81.55 L96.78,83.87 L97.82,86.18 L98.87,88.46 L99.91,90.71 L100.95,92.94 L102.00,95.13 L103.04,97.30 L104.09,99.43 L105.13,101.52 L106.17,103.58 L107.22,105.60 L108.26,107.58 L109.31,109.53 L110.35,111.44 L111.39,113.31 L112.44,115.14 L113.48,116.93 L114.53,118.68 L115.57,120.40 L116.61,122.08 L117.66,123.72 L118.70,125.32 L119.75,126.89 L120.79,128.42 L121.84,129.92 L122.88,131.38 L123.92,132.81 L124.97,134.21 L126.01,135.57 L127.06,136.91 L128.10,138.21 L129.14,139.48 L130.19,140.72 L131.23,141.94 L132.28,143.13 L133.32,144.29 L134.36,145.42 L135.41,146.53 L136.45,147.61 L137.50,148.67 L138.54,149.71 L139.58,150.72 L140.63,151.72 L141.67,152.69 L142.72,153.64 L143.76,154.57 L144.80,155.48 L145.85,156.37 L146.89,157.24 L147.94,158.09 L148.98,158.93 L150.02,159.75 L151.07,160.55 L152.11,161.34 L153.16,162.11 L154.20,162.87 L155.24,163.61 L156.29,164.34 L157.33,165.05 L158.38,165.75 L159.42,166.44 L160.47,167.11 L161.51,167.77 L162.55,168.42 L163.60,169.06 L164.64,169.68 L165.69,170.30 L166.73,170.90 L167.77,171.49 L168.82,172.07 L169.86,172.64 L170.91,173.19 L171.95,173.74 L172.99,174.28 L174.04,174.81 L175.08,175.32 L176.13,175.83 L177.17,176.33 L178.21,176.82 L179.26,177.30 L180.30,177.77 L181.35,178.23 L182.39,178.68 L183.43,179.13 L184.48,179.56 L185.52,179.99 L186.57,180.41 L187.61,180.82 L188.65,181.22 L189.70,181.61 L190.74,182.00 L191.79,182.37 L192.83,182.75 L193.87,183.11 L194.92,183.47 L195.96,183.82 L197.01,184.17 L198.05,184.51 L199.10,184.84 L200.14,185.16 L201.18,185.47 L202.23,185.77 L203.27,186.06 L204.32,186.34 L205.36,186.61 L206.40,186.87 L207.45,187.13 L208.49,187.37 L209.54,187.61 L210.58,187.83 L211.62,188.06 L212.67,188.27 L213.71,188.48 L214.76,188.69 L215.80,188.89 L216.84,189.09 L217.89,189.28 L218.93,189.47 L219.98,189.65 L221.02,189.83 L222.06,190.01 L223.11,190.18 L224.15,190.36 L225.20,190.53 L226.24,190.71 L227.28,190.89 L228.33,191.06 L229.37,191.23 L230.42,191.40 L231.46,191.56 L232.51,191.71 L233.55,191.84 L234.59,191.97 L235.64,192.09 L236.68,192.20 L237.73,192.31 L238.77,192.42 L239.81,192.52 L240.86,192.62 L241.90,192.71 L242.95,192.81 L243.99,192.90 L245.03,192.99 L246.08,193.07 L247.12,193.16 L248.17,193.25 L249.21,193.33 L250.25,193.42 L251.30,193.51 L252.34,193.59 L253.39,193.68 L254.43,193.76 L255.47,193.84 L256.52,193.92 L257.56,194.00 L258.61,194.08 L259.65,194.16 L260.69,194.24 L261.74,194.31 L262.78,194.39 L263.83,194.46 L264.87,194.53 L265.91,194.59 L266.96,194.66 L268.00,194.73 L269.05,194.79 L270.09,194.86 L271.14,194.92 L272.18,194.99 L273.22,195.05 L274.27,195.11 L275.31,195.17 L276.36,195.23 L277.40,195.28 L278.44,195.34 L279.49,195.39 L280.53,195.44 L281.58,195.48 L282.62,195.53 L283.66,195.57 L284.71,195.61 L285.75,195.65 L286.80,195.69 L287.84,195.73 L288.88,195.77 L289.93,195.80 L290.97,195.84 L292.02,195.87 L293.06,195.90 L294.10,195.94 L295.15,195.97 L296.19,196.00 L297.24,196.03 L298.28,196.06 L299.32,196.08 L300.37,196.11 L301.41,196.13 L302.46,196.16 L303.50,196.18 L304.55,196.21 L305.59,196.23 L306.63,196.25 L307.68,196.27 L308.72,196.29 L309.77,196.32 L310.81,196.34 L311.85,196.36 L312.90,196.37 L313.94,196.39 L314.99,196.41 L316.03,196.43 L317.07,196.45 L318.12,196.47 L319.16,196.49 L320.21,196.50 L321.25,196.52 L322.29,196.54 L323.34,196.56 L324.38,196.57 L325.43,196.59 L326.47,196.61 L327.51,196.62 L328.56,196.64 L329.60,196.66 L330.65,196.67 L331.69,196.69 L332.73,196.70 L333.78,196.72 L334.82,196.73 L335.87,196.75 L336.91,196.76 L337.95,196.77 L339.00,196.79 L340.04,196.80 L341.09,196.81 L342.13,196.83 L343.18,196.84 L344.22,196.85 L345.26,196.86 L346.31,196.87 L347.35,196.88 L348.40,196.90 L349.44,196.91 L350.48,196.92 L351.53,196.93 L352.57,196.94 L353.62,196.95 L354.66,196.96 L355.70,196.97 L356.75,196.98 L357.79,196.98 L358.84,196.99 L359.88,197.00 L360.92,197.01 L361.97,197.01 L363.01,197.02 L364.06,197.03 L365.10,197.03 L366.14,197.04 L367.19,197.05 L368.23,197.05 L369.28,197.06 L370.32,197.06 L371.36,197.07 L372.41,197.07 L373.45,197.08 L374.50,197.08 L375.54,197.09 L376.58,197.09 L377.63,197.10 L378.67,197.10" fill="none" stroke="#ff8000" stroke-width="2.3" stroke-dasharray="3.2 2.6"/></g>
<g fill="#000"><text transform="translate(66.50,222.9) scale(1,1.06)" text-anchor="middle" font-size="17.5">0.0</text>
<text transform="translate(118.42,222.9) scale(1,1.06)" text-anchor="middle" font-size="17.5">0.5</text>
<text transform="translate(170.35,222.9) scale(1,1.06)" text-anchor="middle" font-size="17.5">1.0</text>
<text transform="translate(222.27,222.9) scale(1,1.06)" text-anchor="middle" font-size="17.5">1.5</text>
<text transform="translate(274.20,222.9) scale(1,1.06)" text-anchor="middle" font-size="17.5">2.0</text>
<text transform="translate(326.12,222.9) scale(1,1.06)" text-anchor="middle" font-size="17.5">2.5</text>
<text transform="translate(378.05,222.9) scale(1,1.06)" text-anchor="middle" font-size="17.5">3.0</text>
<text transform="translate(56.1,203.35) scale(1,1.06)" text-anchor="end" font-size="17.5">0.0</text>
<text transform="translate(56.1,176.64) scale(1,1.06)" text-anchor="end" font-size="17.5">0.1</text>
<text transform="translate(56.1,149.93) scale(1,1.06)" text-anchor="end" font-size="17.5">0.2</text>
<text transform="translate(56.1,123.22) scale(1,1.06)" text-anchor="end" font-size="17.5">0.3</text>
<text transform="translate(56.1,96.51) scale(1,1.06)" text-anchor="end" font-size="17.5">0.4</text>
<text transform="translate(56.1,69.80) scale(1,1.06)" text-anchor="end" font-size="17.5">0.5</text>
<text transform="translate(56.1,43.09) scale(1,1.06)" text-anchor="end" font-size="17.5">0.6</text>
<text transform="translate(56.1,16.38) scale(1,1.06)" text-anchor="end" font-size="17.5">0.7</text></g>
<g fill="#000"><rect x="251.5" y="12.5" width="90.7" height="134.2" fill="#fff" stroke="#555" stroke-width="0.9"/>
<text x="271.3" y="28.00" font-size="18">v=5/2</text>
<path d="M254.2,22.90 h7.3" stroke="#ffb0b0" stroke-width="0.7"/>
<text x="271.3" y="44.42" font-size="18">v=1</text>
<path d="M254.2,39.32 h7.3" stroke="#b0b0ff" stroke-width="0.7"/>
<text x="271.3" y="60.84" font-size="18">v=1/2</text>
<path d="M254.2,55.74 h7.3" stroke="#b0ffb0" stroke-width="0.7"/>
<text x="271.3" y="77.26" font-size="18">v=1/10</text>
<path d="M254.2,72.16 h7.3" stroke="#ffd0a0" stroke-width="0.7"/>
<text x="271.3" y="93.68" font-size="18">v=5/2</text>
<path d="M254.2,88.58 h7.3" stroke="#c4c4c4" stroke-width="0.7" stroke-dasharray="1.6 4.1"/>
<text x="271.3" y="110.10" font-size="18">v=1</text>
<path d="M254.2,105.00 h7.3" stroke="#b0b0ff" stroke-width="0.7" stroke-dasharray="1.6 4.1"/>
<text x="271.3" y="126.52" font-size="18">v=1/2</text>
<path d="M254.2,121.42 h7.3" stroke="#b0ffb0" stroke-width="0.7" stroke-dasharray="1.6 4.1"/>
<text x="271.3" y="142.94" font-size="18">v=1/10</text>
<path d="M254.2,137.84 h7.3" stroke="#ffd0a0" stroke-width="0.7" stroke-dasharray="1.6 4.1"/></g>
<g fill="#000" font-style="italic">
<text x="222.4" y="249" font-size="17" text-anchor="middle">u</text>
<circle cx="222.7" cy="238.9" r="0.85"/>
</g>
<g transform="translate(23.8,103.1) rotate(-90)" fill="#000" font-size="17.1">
<text x="0" y="0" text-anchor="middle"><tspan font-style="italic">P</tspan>(<tspan font-style="italic">u</tspan>+v,0)</text>
<circle cx="-12.2" cy="-10.1" r="0.85"/>
<path d="M-30.1,-13.6 q1.6,-1.7 3.2,-0.6 q1.6,1.1 3.2,-0.6" fill="none" stroke="#000" stroke-width="0.9"/>
</g>
</svg>
</body></html>
